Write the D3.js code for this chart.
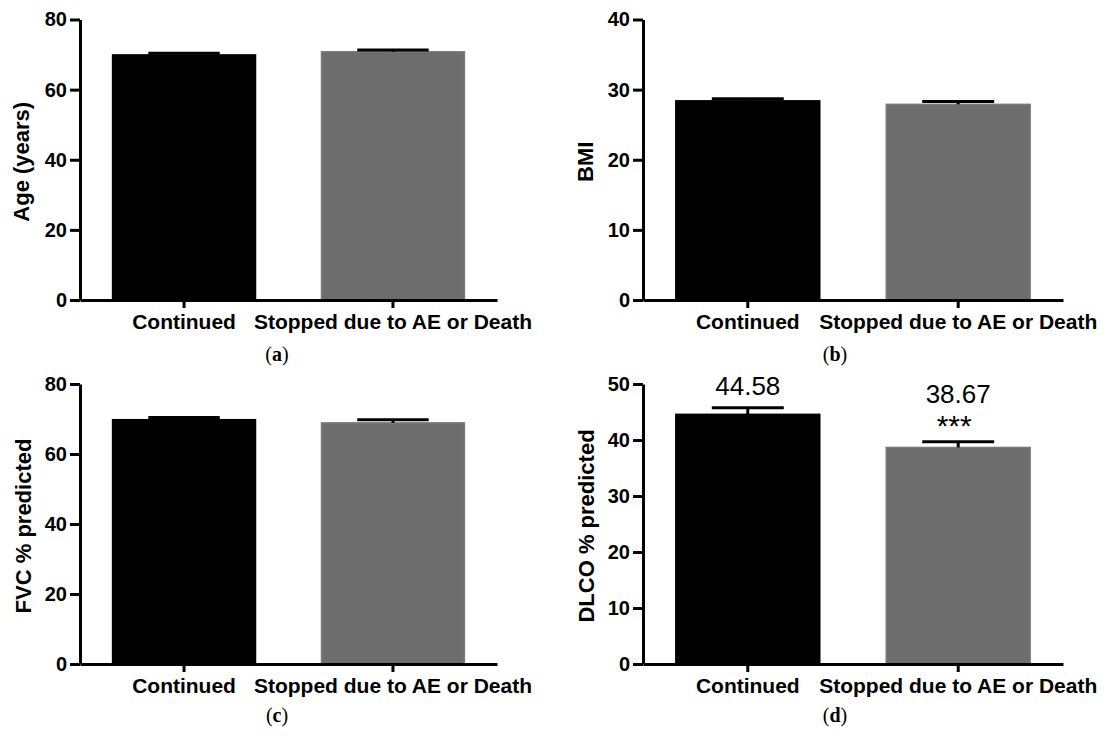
<!DOCTYPE html>
<html>
<head>
<meta charset="utf-8">
<script src="https://cdn.jsdelivr.net/npm/d3@7"></script>
<style>
  body { margin: 0; background: #fff; }
  svg text { font-family: "Liberation Sans", Arial, sans-serif; }
</style>
</head>
<body>
<div id="chart"></div>
<script>
// categories shared by all four panels
var categories = ["Continued", "Stopped due to AE or Death"];

// means and SEM
var ageMean = [69.9, 70.8];
var ageSem = [0.5, 0.5];
var bmiMean = [28.4, 27.9];
var bmiSem = [0.3, 0.4];
var fvcMean = [69.8, 68.9];
var fvcSem = [0.6, 0.9];
var dlcoMean = [44.58, 38.67];
var dlcoSem = [1.2, 1.0];

// text over the DLCO bars
var dlcoLabels = ["44.58", "38.67"];
var dlcoStars = ["", "***"];

var barColors = ["#000000", "#6d6d6d"];

var svgWidth = 1106;
var svgHeight = 736;

var svg = d3.select("#chart")
  .append("svg")
  .attr("width", svgWidth)
  .attr("height", svgHeight);

// one panel = one little bar chart
function drawPanel(opts) {
  var g = svg.append("g");

  var x = d3.scaleBand()
    .domain(categories)
    .range([opts.left, opts.right])
    .paddingInner(0.316)
    .paddingOuter(0.156);

  var y = d3.scaleLinear()
    .domain([0, opts.max])
    .range([opts.bottom, opts.top]);

  var data = categories.map(function(c, i) {
    return { cat: c, mean: opts.mean[i], sem: opts.sem[i], i: i };
  });

  // bars
  g.selectAll("rect.bar")
    .data(data)
    .enter()
    .append("rect")
    .attr("class", "bar")
    .attr("x", d => x(d.cat))
    .attr("y", d => y(d.mean))
    .attr("width", x.bandwidth())
    .attr("height", d => y(0) - y(d.mean))
    .attr("fill", d => barColors[d.i])
    .attr("stroke", d => d.i == 0 ? "#000" : "#7c7c7c")
    .attr("stroke-width", 1.5);

  // error bars (up only), cap is half the bar width
  var capHalf = x.bandwidth() / 4;
  var eb = g.selectAll("g.err")
    .data(data)
    .enter()
    .append("g")
    .attr("class", "err");
  eb.append("line")
    .attr("x1", d => x(d.cat) + x.bandwidth() / 2)
    .attr("x2", d => x(d.cat) + x.bandwidth() / 2)
    .attr("y1", d => y(d.mean))
    .attr("y2", d => y(d.mean + d.sem))
    .attr("stroke", "#000")
    .attr("stroke-width", 3);
  eb.append("line")
    .attr("x1", d => x(d.cat) + x.bandwidth() / 2 - capHalf)
    .attr("x2", d => x(d.cat) + x.bandwidth() / 2 + capHalf)
    .attr("y1", d => y(d.mean + d.sem))
    .attr("y2", d => y(d.mean + d.sem))
    .attr("stroke", "#000")
    .attr("stroke-width", 3);

  // y axis
  var yAxis = g.append("g")
    .attr("transform", `translate(${opts.left}, 0)`)
    .call(d3.axisLeft(y).tickValues(opts.ticks).tickSize(10).tickSizeOuter(0).tickPadding(3));

  // x axis
  var xAxis = g.append("g")
    .attr("transform", `translate(0, ${opts.bottom})`)
    .call(d3.axisBottom(x).tickSize(8).tickSizeOuter(0).tickPadding(6));

  [yAxis, xAxis].forEach(function(a) {
    a.select(".domain").attr("stroke", "#000").attr("stroke-width", 3);
    a.selectAll(".tick line").attr("stroke", "#000").attr("stroke-width", 3);
    a.selectAll(".tick text")
      .attr("fill", "#000")
      .style("font-family", "'Liberation Sans', Arial, sans-serif")
      .style("font-weight", "bold");
  });
  yAxis.selectAll(".tick text").style("font-size", "20px");
  xAxis.selectAll(".tick text").style("font-size", "21px");

  // y axis title
  g.append("text")
    .attr("transform", `translate(${opts.titleX}, ${(opts.top + opts.bottom) / 2 + 2}) rotate(-90)`)
    .attr("text-anchor", "middle")
    .style("font-size", "22px")
    .style("font-weight", "bold")
    .text(opts.title);

  // panel caption (a), (b) ...
  var cap = g.append("text")
    .attr("x", opts.capX)
    .attr("y", opts.capY)
    .attr("text-anchor", "middle")
    .style("font-family", "'Liberation Serif', 'DejaVu Serif', serif")
    .style("font-size", "20px");
  cap.append("tspan").text("(");
  cap.append("tspan").style("font-weight", "bold").text(opts.letter);
  cap.append("tspan").text(")");

  return { g: g, x: x, y: y, data: data };
}

drawPanel({ left: 80, right: 497, top: 19.5, bottom: 300, max: 80, ticks: [0, 20, 40, 60, 80],
  mean: ageMean, sem: ageSem, title: "Age (years)", titleX: 29, letter: "a", capX: 277, capY: 361 });

drawPanel({ left: 643, right: 1063, top: 19.5, bottom: 300, max: 40, ticks: [0, 10, 20, 30, 40],
  mean: bmiMean, sem: bmiSem, title: "BMI", titleX: 593, letter: "b", capX: 835, capY: 361 });

drawPanel({ left: 80, right: 497, top: 384, bottom: 664, max: 80, ticks: [0, 20, 40, 60, 80],
  mean: fvcMean, sem: fvcSem, title: "FVC % predicted", titleX: 31, letter: "c", capX: 277, capY: 722 });

var pd = drawPanel({ left: 643, right: 1063, top: 384, bottom: 664, max: 50, ticks: [0, 10, 20, 30, 40, 50],
  mean: dlcoMean, sem: dlcoSem, title: "DLCO % predicted", titleX: 594, letter: "d", capX: 835, capY: 722 });

// value labels and significance stars on (d)
pd.g.selectAll("text.val")
  .data(pd.data)
  .enter()
  .append("text")
  .attr("class", "val")
  .attr("x", d => pd.x(d.cat) + pd.x.bandwidth() / 2)
  .attr("y", d => pd.y(d.mean + d.sem) - (dlcoStars[d.i] ? 39 : 13))
  .attr("text-anchor", "middle")
  .style("font-size", "26px")
  .text(d => dlcoLabels[d.i]);

pd.g.selectAll("text.star")
  .data(pd.data.filter(d => dlcoStars[d.i]))
  .enter()
  .append("text")
  .attr("class", "star")
  .attr("x", d => pd.x(d.cat) + pd.x.bandwidth() / 2 - 4)
  .attr("y", d => pd.y(d.mean + d.sem) - 6)
  .attr("text-anchor", "middle")
  .style("font-size", "30px")
  .text(d => dlcoStars[d.i]);
</script>
</body>
</html>
